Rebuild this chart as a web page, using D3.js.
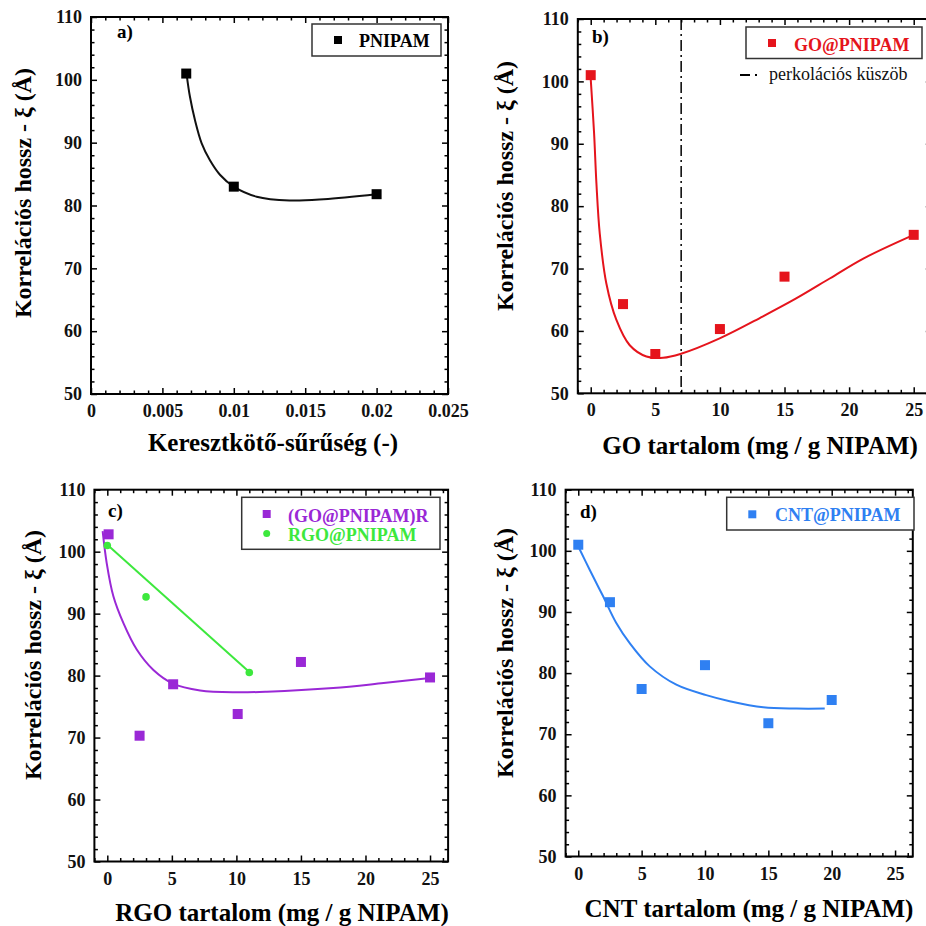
<!DOCTYPE html>
<html>
<head>
<meta charset="utf-8">
<script src="https://cdn.jsdelivr.net/npm/d3@7.9.0/dist/d3.min.js"></script>
<style>
  html, body { margin: 0; padding: 0; background: #fff; }
  svg { display: block; font-family: "Liberation Serif", "Times New Roman", serif; }
  .tick text { font-family: "Liberation Serif", "Times New Roman", serif; font-size: 18px; font-weight: bold; fill: #111; }
  .tick line { stroke: #000; stroke-width: 1.5; }
</style>
</head>
<body>
<svg id="chart" width="926" height="926"></svg>
<script>
// ---- data ----
// a) PNIPAM vs crosslink density
const crosslinkDensity = [0.00667, 0.01, 0.02];
const xiPnipam = [101, 83, 81.8];
const fitPnipamX = [0.0067, 0.00693, 0.00728, 0.00775, 0.00833, 0.00903, 0.0100, 0.0116, 0.0139, 0.0163, 0.0200];
const fitPnipamY = [100.8, 97.3, 93.6, 89.9, 87.2, 84.9, 83.0, 81.4, 80.8, 81.0, 81.8];

// b) GO@PNIPAM
const goContent = [0, 2.5, 5, 10, 15, 25];
const xiGo = [101, 64.3, 56.3, 60.3, 68.7, 75.4];
const fitGoX = [0, 0.26, 0.44, 0.7, 1.21, 1.98, 3.02, 4.31, 5.6, 6.94, 9.98, 13.3, 15.9, 18.5, 21.1, 25];
const fitGoY = [100.4, 91.7, 83.7, 75.6, 67.6, 61.8, 57.7, 55.9, 55.7, 56.3, 58.8, 62.3, 65.2, 68.4, 71.6, 75.4];
const percolationThreshold = 7;

// c) (GO@PNIPAM)R and RGO@PNIPAM
const goRContent = [0.1, 2.5, 5.1, 10.1, 15, 25];
const xiGoR = [102.8, 70.3, 78.6, 73.8, 82.2, 79.7];
const fitGoRX = [-0.36, -0.05, 0.47, 1.24, 2.28, 3.57, 5.09, 7.19, 10.0, 12.36, 17.5, 21.4, 25];
const fitGoRY = [103.3, 98.2, 92.8, 88.5, 84.2, 80.9, 78.7, 77.6, 77.3, 77.4, 78.0, 78.8, 79.6];
const rgoContent = [0, 3, 11];
const xiRgo = [101, 92.7, 80.5];
const fitRgoX = [0, 11];
const fitRgoY = [101.1, 80.6];

// d) CNT@PNIPAM
const cntContent = [0, 2.5, 5, 10, 15, 20];
const xiCnt = [101, 91.6, 77.4, 81.3, 71.8, 75.6];
const fitCntX = [0.05, 0.9, 1.95, 3.0, 4.06, 5.64, 7.74, 10.1, 11.95, 14.6, 17.2, 19.45];
const fitCntY = [100.5, 96.9, 92.6, 88.2, 84.9, 81.1, 78.1, 76.4, 75.4, 74.4, 74.2, 74.2];

const yTicks = [50, 60, 70, 80, 90, 100, 110];
const contentTicks = [0, 5, 10, 15, 20, 25];
const densityTicks = [0, 0.005, 0.01, 0.015, 0.02, 0.025];

const yLabel = 'Korrelációs hossz - ξ (Å)';

const RED = '#e5141c', PURPLE = '#9a28d6', GREEN = '#3de83d', BLUE = '#2f80f2';

const svg = d3.select('#chart');

// draws the frame, all four axes with inward major/minor ticks
function drawFrame(p) {
  const g = svg.append('g');
  const x = d3.scaleLinear().domain(p.xDomain).range([p.left, p.right]);
  const y = d3.scaleLinear().domain([50, 110]).range([p.bottom, p.top]);

  const minorX = d3.range(p.xDomain[0], p.xDomain[1] + 1e-9, p.xMinor)
    .filter(v => !p.xTicks.some(t => Math.abs(t - v) < 1e-9));
  const minorY = d3.range(50, 110.001, 2).filter(v => v % 10 !== 0);

  const fmt = p.xFormat || (d => d);

  const axes = [
    [d3.axisBottom(x).tickValues(p.xTicks).tickFormat(fmt), p.bottom, 'x'],
    [d3.axisTop(x).tickValues(p.xTicks).tickFormat(''), p.top, 'x'],
    [d3.axisLeft(y).tickValues(yTicks), p.left, 'y'],
    [d3.axisRight(y).tickValues(yTicks).tickFormat(''), p.right, 'y']
  ];
  axes.forEach(([ax, pos, dir]) => {
    const shift = dir === 'x' ? `translate(0,${pos})` : `translate(${pos},0)`;
    const a = g.append('g')
      .attr('transform', shift)
      .call(ax.tickSize(-6).tickSizeOuter(0).tickPadding(dir === 'x' ? p.xPad : 9));
    a.select('.domain').remove();
    a.attr('font-family', null).attr('font-size', null);
    const minorAx = ax.tickValues(dir === 'x' ? minorX : minorY).tickFormat('').tickSize(-3.5);
    const m = g.append('g').attr('transform', shift).call(minorAx);
    m.select('.domain').remove();
  });

  g.append('rect')
    .attr('x', p.left).attr('y', p.top)
    .attr('width', p.right - p.left).attr('height', p.bottom - p.top)
    .attr('fill', 'none').attr('stroke', '#000').attr('stroke-width', 2);

  // axis titles
  svg.append('text')
    .attr('transform', `translate(${p.yLabelX},${p.yLabelY}) rotate(-90)`)
    .attr('text-anchor', 'middle').attr('dy', '0.35em')
    .style('font-size', '24px').style('font-weight', 'bold')
    .text(yLabel);
  svg.append('text')
    .attr('x', p.xLabelX).attr('y', p.xLabelY)
    .attr('text-anchor', 'middle')
    .style('font-size', '25px').style('font-weight', 'bold')
    .text(p.xLabel);
  svg.append('text')
    .attr('x', p.tagX).attr('y', p.tagY)
    .style('font-size', '19px').style('font-weight', 'bold')
    .text(p.tag);

  return { x, y };
}

function squares(x, y, xs, ys, color, size = 10) {
  svg.append('g').selectAll('rect')
    .data(xs.map((v, i) => [v, ys[i]]))
    .join('rect')
    .attr('x', d => x(d[0]) - size / 2)
    .attr('y', d => y(d[1]) - size / 2)
    .attr('width', size).attr('height', size)
    .attr('fill', color);
}

function fitLine(x, y, xs, ys, color, curve = d3.curveCatmullRom) {
  const line = d3.line().x(d => x(d[0])).y(d => y(d[1])).curve(curve);
  svg.append('path')
    .datum(xs.map((v, i) => [v, ys[i]]))
    .attr('d', line)
    .attr('fill', 'none').attr('stroke', color).attr('stroke-width', 2);
}

function legendBox(x0, y0, x1, y1) {
  svg.append('rect')
    .attr('x', x0).attr('y', y0).attr('width', x1 - x0).attr('height', y1 - y0)
    .attr('fill', '#fff').attr('stroke', '#333').attr('stroke-width', 1.5);
}

function legendText(x, y, text, color, bold = true) {
  svg.append('text')
    .attr('x', x).attr('y', y)
    .style('font-size', '18px').style('font-weight', bold ? 'bold' : 'normal')
    .attr('fill', color)
    .text(text);
}

// ---- panel a ----
{
  const { x, y } = drawFrame({
    left: 91, right: 448, top: 17, bottom: 394,
    xDomain: [0, 0.025], xTicks: densityTicks, xMinor: 0.001, xPad: 10,
    xFormat: d => d === 0 ? '0' : String(+d.toFixed(3)),
    xLabel: 'Keresztkötő-sűrűség (-)', xLabelX: 273, xLabelY: 451,
    yLabelX: 23, yLabelY: 193, tag: 'a)', tagX: 117, tagY: 38
  });
  fitLine(x, y, fitPnipamX, fitPnipamY, '#111');
  squares(x, y, crosslinkDensity, xiPnipam, '#000');
  legendBox(312, 24, 441, 56);
  svg.append('rect').attr('x', 334).attr('y', 36).attr('width', 8).attr('height', 8).attr('fill', '#000');
  legendText(359, 47, 'PNIPAM', '#000');
}

// ---- panel b ----
{
  const { x, y } = drawFrame({
    left: 577.8, right: 931.8, top: 19, bottom: 393.3,
    xDomain: [-1, 26.4], xTicks: contentTicks, xMinor: 1, xPad: 10,
    xLabel: 'GO tartalom (mg / g NIPAM)', xLabelX: 760, xLabelY: 454,
    yLabelX: 505, yLabelY: 186, tag: 'b)', tagX: 592, tagY: 43
  });
  svg.append('line')
    .attr('x1', x(percolationThreshold)).attr('x2', x(percolationThreshold))
    .attr('y1', y(110)).attr('y2', y(50))
    .attr('stroke', '#000').attr('stroke-width', 1.5)
    .attr('stroke-dasharray', '11,4,2,4');
  fitLine(x, y, fitGoX, fitGoY, RED);
  squares(x, y, goContent, xiGo, RED);
  legendBox(746, 27, 922, 58.5);
  svg.append('rect').attr('x', 768).attr('y', 39).attr('width', 8).attr('height', 8).attr('fill', RED);
  legendText(794, 51, 'GO@PNIPAM', RED);
  svg.append('line').attr('x1', 740).attr('x2', 760).attr('y1', 75).attr('y2', 75)
    .attr('stroke', '#000').attr('stroke-width', 2).attr('stroke-dasharray', '10,5,2,4');
  legendText(769, 80, 'perkolációs küszöb', '#111', false);
}

// ---- panel c ----
{
  const { x, y } = drawFrame({
    left: 94.4, right: 448.1, top: 489.7, bottom: 861.5,
    xDomain: [-1, 26.4], xTicks: contentTicks, xMinor: 1, xPad: 11,
    xLabel: 'RGO tartalom (mg / g NIPAM)', xLabelX: 282, xLabelY: 921,
    yLabelX: 33, yLabelY: 655, tag: 'c)', tagX: 108, tagY: 517
  });
  fitLine(x, y, fitGoRX, fitGoRY, PURPLE);
  fitLine(x, y, fitRgoX, fitRgoY, GREEN, d3.curveLinear);
  squares(x, y, goRContent, xiGoR, PURPLE);
  svg.append('g').selectAll('circle')
    .data(rgoContent.map((v, i) => [v, xiRgo[i]]))
    .join('circle')
    .attr('cx', d => x(d[0])).attr('cy', d => y(d[1])).attr('r', 3.8)
    .attr('fill', GREEN);
  legendBox(241.7, 497.3, 440, 549.3);
  svg.append('rect').attr('x', 262.7).attr('y', 510).attr('width', 8).attr('height', 8).attr('fill', PURPLE);
  legendText(288, 522, '(GO@PNIPAM)R', PURPLE);
  svg.append('circle').attr('cx', 266.7).attr('cy', 533.5).attr('r', 3.5).attr('fill', GREEN);
  legendText(288, 541, 'RGO@PNIPAM', GREEN);
}

// ---- panel d ----
{
  const { x, y } = drawFrame({
    left: 565.6, right: 912.8, top: 489.7, bottom: 856.5,
    xDomain: [-1, 26.4], xTicks: contentTicks, xMinor: 1, xPad: 11,
    xLabel: 'CNT tartalom (mg / g NIPAM)', xLabelX: 749, xLabelY: 917,
    yLabelX: 505, yLabelY: 653, tag: 'd)', tagX: 580, tagY: 518
  });
  fitLine(x, y, fitCntX, fitCntY, BLUE);
  squares(x, y, cntContent, xiCnt, BLUE);
  legendBox(726.7, 497.3, 914, 530);
  svg.append('rect').attr('x', 748.3).attr('y', 510.3).attr('width', 8).attr('height', 8).attr('fill', BLUE);
  legendText(775, 521, 'CNT@PNIPAM', BLUE);
}
</script>
</body>
</html>
